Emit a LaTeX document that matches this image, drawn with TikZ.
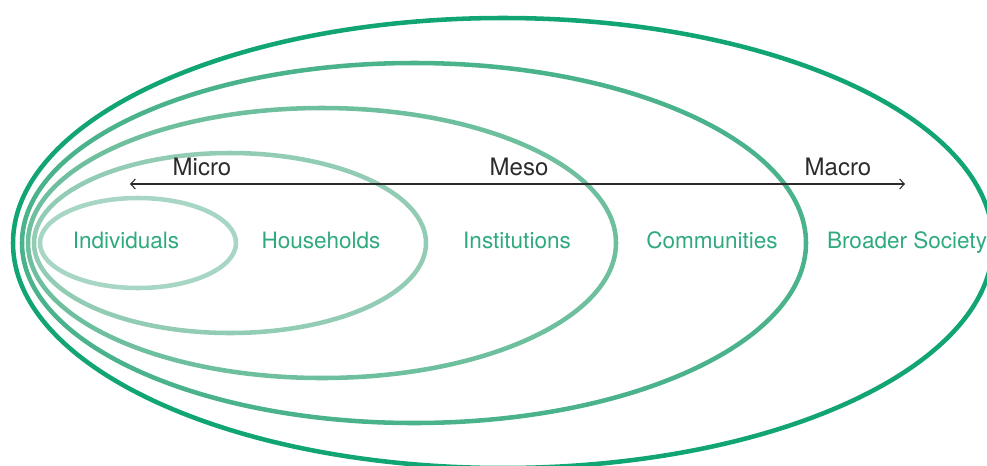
\documentclass[tikz,border=0pt]{standalone}
\usepackage{fontspec}
\setmainfont{TeX Gyre Heros}
\usetikzlibrary{shapes.geometric,arrows.meta}
\definecolor{cA}{HTML}{A8D6C4}
\definecolor{cB}{HTML}{92CCB4}
\definecolor{cC}{HTML}{6DBF9E}
\definecolor{cD}{HTML}{4BB38C}
\definecolor{cE}{HTML}{12A574}
\definecolor{lblgreen}{HTML}{2EAA7D}
\definecolor{lbldark}{HTML}{2B2B2B}
\tikzset{
  ring/.style={ellipse, inner sep=0pt, outer sep=0pt, line width=3.4pt},
  levellabel/.style={anchor=base, inner sep=0pt, text=lblgreen, font=\fontsize{16.9}{20}\selectfont},
  scalelabel/.style={anchor=base, inner sep=0pt, text=lbldark, font=\fontsize{18}{20}\selectfont},
  scalearrow/.style={draw=lbldark, line width=0.8pt, {Straight Barb[length=3.5pt,width=7.5pt]}-{Straight Barb[length=3.5pt,width=7.5pt]}}
}
\begin{document}
\begin{tikzpicture}[x=0.75pt,y=-0.75pt]
\useasboundingbox (0,0) rectangle (987,465);
\begin{scope}
\clip (0,0) rectangle (987,465);
\node[ring, draw=cE, minimum width=735pt, minimum height=337.5pt] (e5) at (503,243) {};
\node[ring, draw=cD, minimum width=588pt, minimum height=270pt] (e4) at (414,243) {};
\node[ring, draw=cC, minimum width=441pt, minimum height=202.5pt] (e3) at (322,243) {};
\node[ring, draw=cB, minimum width=294pt, minimum height=135pt] (e2) at (230,243) {};
\node[ring, draw=cA, minimum width=147pt, minimum height=67.5pt] (e1) at (138,243) {};
\end{scope}
\node[levellabel] (individuals) at (126,248) {Individuals};
\node[levellabel] (households) at (321,248) {Households};
\node[levellabel] (institutions) at (517,248) {Institutions};
\node[levellabel] (communities) at (712,248) {Communities};
\node[levellabel] (society) at (907,248) {Broader Society};
\node[scalelabel] (micro) at (202,175) {Micro};
\node[scalelabel] (meso) at (519,175) {Meso};
\node[scalelabel] (macro) at (838,175) {Macro};
\coordinate (arrowL) at (130,184);
\coordinate (arrowR) at (905,184);
\draw[scalearrow] (arrowL) -- (arrowR);
\end{tikzpicture}
\end{document}
